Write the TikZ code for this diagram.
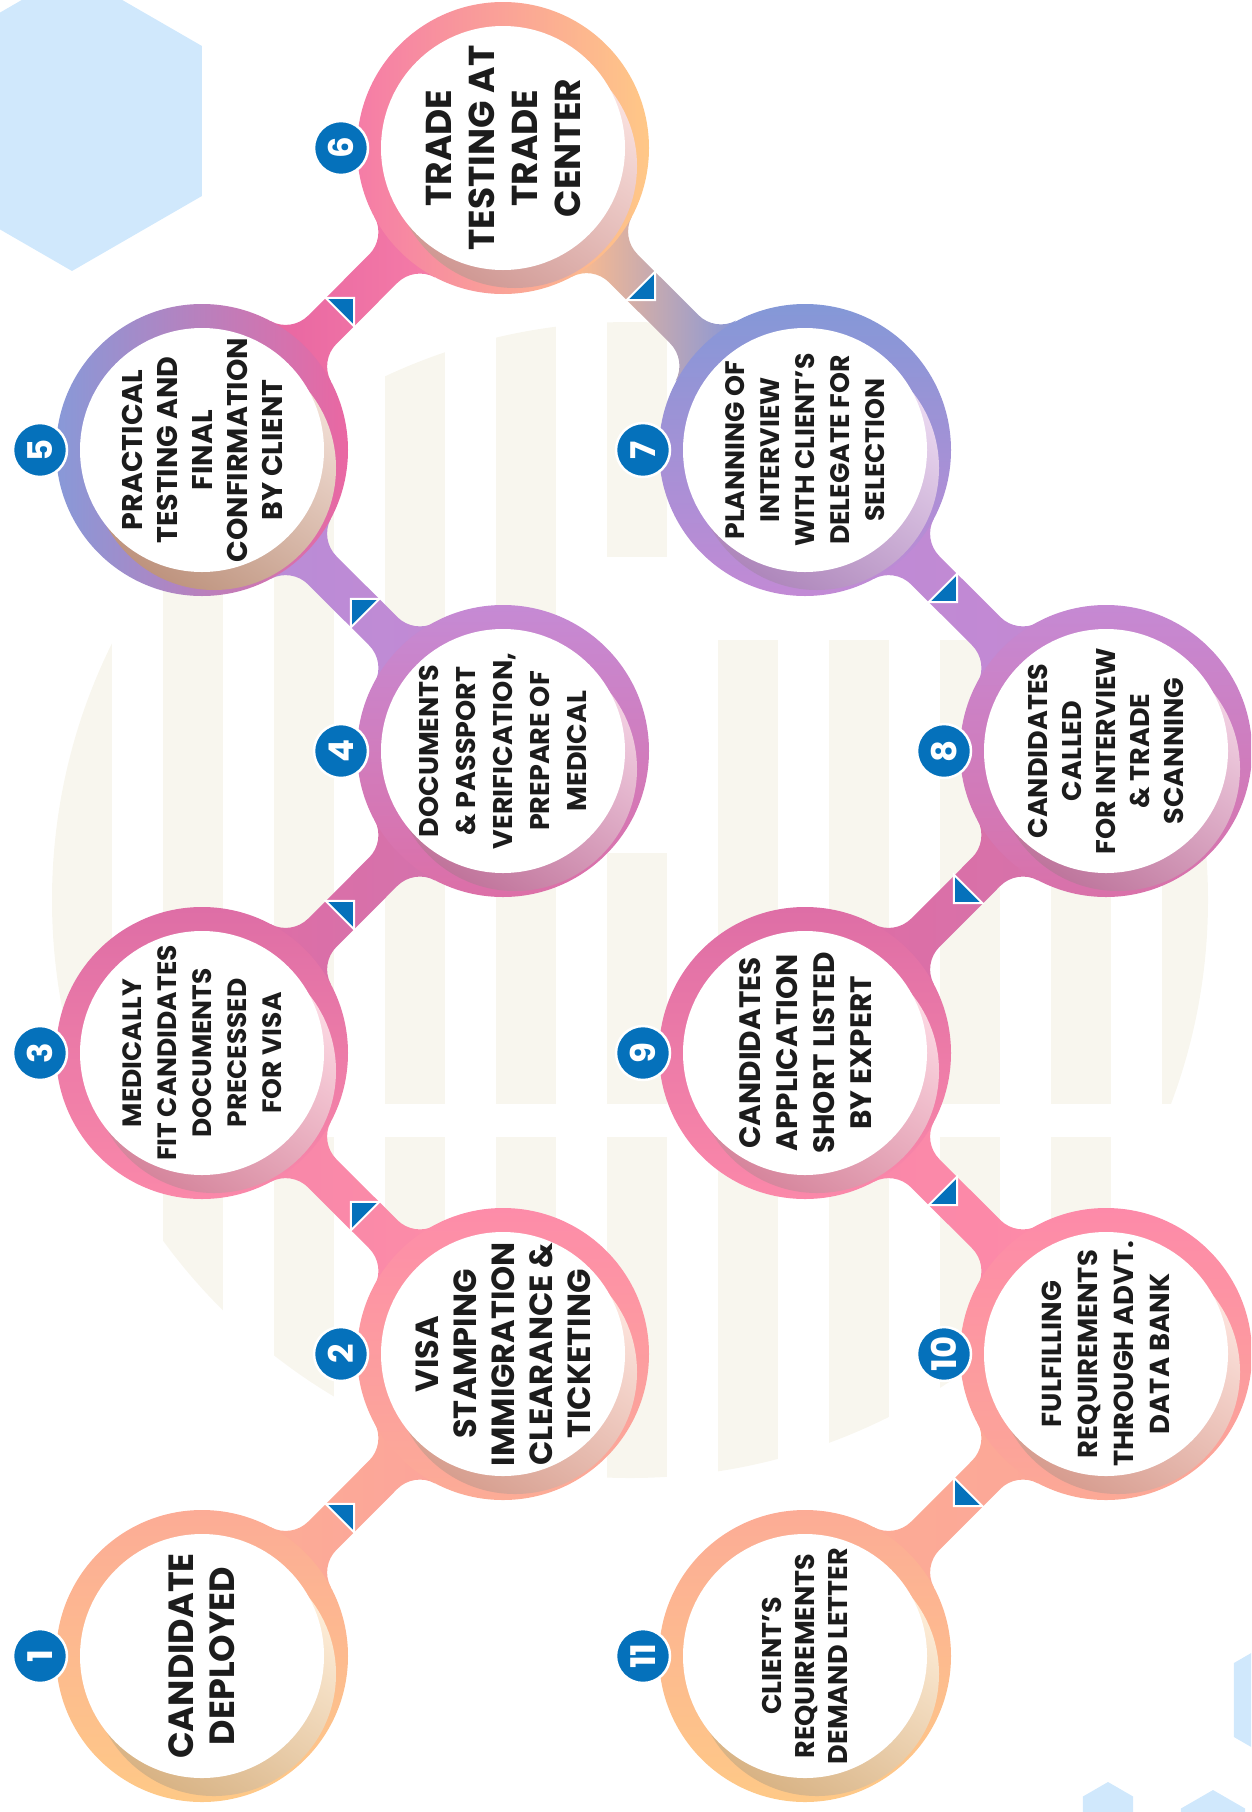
\documentclass[tikz,border=0pt]{standalone}
\usepackage{fontspec}
\setmainfont{Poppins}
\usetikzlibrary{calc}

% colours
\definecolor{badgeblue}{HTML}{0571BB}
\definecolor{inkblack}{HTML}{1C1C1C}
\definecolor{wmcream}{HTML}{F8F6EE}
\definecolor{hexblue}{HTML}{D0E8FC}
\definecolor{r1a}{HTML}{FCAC96}\definecolor{r1b}{HTML}{FEC987}
\definecolor{r2a}{HTML}{FD8CA9}\definecolor{r2b}{HTML}{FCAC96}
\definecolor{r3a}{HTML}{DE6EA6}\definecolor{r3b}{HTML}{FA88A9}
\definecolor{r4a}{HTML}{C58AD4}\definecolor{r4b}{HTML}{DC6FA7}
\definecolor{r5a}{HTML}{8899D8}\definecolor{r5m}{HTML}{C08AD4}\definecolor{r5b}{HTML}{EA67A2}
\definecolor{r6a}{HTML}{F57CA7}\definecolor{r6b}{HTML}{FFC887}
\definecolor{r7a}{HTML}{8498D7}\definecolor{r7b}{HTML}{C28AD5}
\definecolor{r8a}{HTML}{C589D3}\definecolor{r8b}{HTML}{D971A9}
\definecolor{r9a}{HTML}{DE6EA6}\definecolor{r9b}{HTML}{FB88A9}
\definecolor{r10a}{HTML}{FD8AA9}\definecolor{r10b}{HTML}{FCA996}
\definecolor{r11a}{HTML}{FCAC96}\definecolor{r11b}{HTML}{FEC987}
\definecolor{sh5}{HTML}{D99C7E}\definecolor{sh6}{HTML}{F2A39C}

\tikzset{
  badge/.style={circle, fill=badgeblue, draw=white, line width=2.5pt,
    minimum size=54pt, inner sep=0pt, text=white, rotate=90,
    font=\bfseries\fontsize{34}{34}\selectfont},
  steptext/.style={align=center, rotate=90, text=inkblack, inner sep=0pt},
  pointer/.style={fill=badgeblue, draw=white, line width=2pt},
  hexfill/.style={fill=hexblue},
  watermark/.style={fill=wmcream},
}

% gradient ring, drop shadow and white face
\newcommand\stepring[3]{%
  \shade[#2] (#1) circle[radius=146];
  \shade[top color=#3!30!white, bottom color=#3!70!gray, shading angle=-35]
    ($(#1)+(12,-18)$) circle[radius=122];
  \fill[white] (#1) circle[radius=122];}

% band between two rings, drawn from the left ring (colours in hex)
\newcommand\joinband[4]{%
  \definecolor{bandl}{HTML}{#3}\definecolor{bandr}{HTML}{#4}%
  \begin{scope}[shift={(#1)}, rotate=#2]
    \shade[left color=bandl, right color=bandr]
      (139.6,42.6) arc[start angle=197, end angle=270, radius=32]
      -- (256.2,20) arc[start angle=270, end angle=343, radius=32]
      -- (286.8,-42.6) arc[start angle=17, end angle=90, radius=32]
      -- (170.2,-20) arc[start angle=90, end angle=163, radius=32]
      -- cycle;
  \end{scope}}

% blue corner pointer on a band
\newcommand\pointer[2]{%
  \begin{scope}[shift={(#1)}, rotate=#2]
    \filldraw[pointer] (195,20) -- (215,0) -- (195,-20) -- cycle;
  \end{scope}}

% pointy-top hexagon
\newcommand\hexcell[3]{%
  \fill[hexfill] ($(#1,#2)+(90:#3)$) -- ($(#1,#2)+(150:#3)$)
    -- ($(#1,#2)+(210:#3)$) -- ($(#1,#2)+(270:#3)$)
    -- ($(#1,#2)+(330:#3)$) -- ($(#1,#2)+(30:#3)$) -- cycle;}

\begin{document}
\begin{tikzpicture}[x=1pt, y=1pt]
  \clip (0,0) rectangle (1251,-1812);

  % watermark
  \begin{scope}
    \clip (630,-900) circle[radius=578];
    \foreach \x in {52,163,274,385,496,1162}
      \fill[watermark] (\x,-300) rectangle ++(60,-804);
    \foreach \x in {718,829,940,1051}
      \fill[watermark] (\x,-640) rectangle ++(60,-464);
    \fill[watermark] (607,-300) rectangle ++(60,-257);
    \fill[watermark] (607,-853) rectangle ++(60,-251);
    \foreach \x in {52,163,...,1162}
      \fill[watermark] (\x,-1137) rectangle ++(60,-400);
  \end{scope}

  % hexagons
  \hexcell{72}{-121}{150}
  \hexcell{1298}{-1700}{74}
  \hexcell{1108}{-1811}{29}
  \hexcell{1213}{-1827}{37}

  % ring centres
  \coordinate (s1) at (202,-1656);
  \coordinate (s2) at (503,-1354);
  \coordinate (s3) at (202,-1053);
  \coordinate (s4) at (503,-751);
  \coordinate (s5) at (202,-450);
  \coordinate (s6) at (503,-148);
  \coordinate (s7) at (805,-450);
  \coordinate (s8) at (1106,-751);
  \coordinate (s9) at (805,-1053);
  \coordinate (s10) at (1106,-1354);
  \coordinate (s11) at (805,-1656);

  % bands
  \joinband{s1}{45}{FCAC96}{FCA49A}
  \joinband{s3}{-45}{F887A9}{FC8CA8}
  \joinband{s3}{45}{DD6EA6}{D472AC}
  \joinband{s5}{-45}{B98CD7}{C28AD4}
  \joinband{s5}{45}{E866A2}{F57CA7}
  \joinband{s6}{-45}{FFBC8C}{8A97D6}
  \joinband{s7}{-45}{BF8AD5}{C389D3}
  \joinband{s9}{45}{DD6EA6}{D672AA}
  \joinband{s9}{-45}{FA88A9}{FD8AA8}
  \joinband{s11}{45}{FCAB96}{FCA797}

  % rings
  \stepring{s1}{top color=r1a, bottom color=r1b}{r1b}
  \stepring{s2}{top color=r2a, bottom color=r2b}{r2b}
  \stepring{s3}{top color=r3a, bottom color=r3b}{r3b}
  \stepring{s4}{top color=r4a, bottom color=r4b}{r4b}
  \stepring{s5}{left color=r5a, middle color=r5m, right color=r5b}{sh5}
  \stepring{s6}{left color=r6a, right color=r6b}{sh6}
  \stepring{s7}{top color=r7a, bottom color=r7b}{r7b}
  \stepring{s8}{top color=r8a, bottom color=r8b}{r8b}
  \stepring{s9}{top color=r9a, bottom color=r9b}{r9b}
  \stepring{s10}{top color=r10a, bottom color=r10b}{r10b}
  \stepring{s11}{top color=r11a, bottom color=r11b}{r11b}

  % pointers, towards the next number
  \pointer{s1}{45}
  \pointer{s2}{135}
  \pointer{s3}{45}
  \pointer{s4}{135}
  \pointer{s5}{45}
  \pointer{s6}{-45}
  \pointer{s7}{-45}
  \pointer{s8}{-135}
  \pointer{s9}{-45}
  \pointer{s10}{-135}

  % texts
  \node[steptext, font=\bfseries\fontsize{35}{41}\selectfont] (t1) at (s1) {CANDIDATE\\DEPLOYED};
  \node[steptext, font=\bfseries\fontsize{32}{38}\selectfont] (t2) at (s2) {VISA\\STAMPING\\IMMIGRATION\\CLEARANCE \&\\TICKETING};
  \node[steptext, font=\bfseries\fontsize{26.5}{35}\selectfont] (t3) at (s3) {MEDICALLY\\FIT CANDIDATES\\DOCUMENTS\\PRECESSED\\FOR VISA};
  \node[steptext, font=\bfseries\fontsize{27}{37}\selectfont] (t4) at (s4) {DOCUMENTS\\\& PASSPORT\\VERIFICATION,\\PREPARE OF\\MEDICAL};
  \node[steptext, font=\bfseries\fontsize{28.5}{35}\selectfont] (t5) at (s5) {PRACTICAL\\TESTING AND\\FINAL\\CONFIRMATION\\BY CLIENT};
  \node[steptext, font=\bfseries\fontsize{36}{43}\selectfont] (t6) at (s6) {TRADE\\TESTING AT\\TRADE\\CENTER};
  \node[steptext, font=\bfseries\fontsize{26.7}{35}\selectfont] (t7) at (s7) {PLANNING OF\\INTERVIEW\\WITH CLIENT’S\\DELEGATE FOR\\SELECTION};
  \node[steptext, font=\bfseries\fontsize{27}{34}\selectfont] (t8) at (s8) {CANDIDATES\\CALLED\\FOR INTERVIEW\\\& TRADE\\SCANNING};
  \node[steptext, font=\bfseries\fontsize{29.5}{37}\selectfont] (t9) at (s9) {CANDIDATES\\APPLICATION\\SHORT LISTED\\BY EXPERT};
  \node[steptext, font=\bfseries\fontsize{27.4}{36}\selectfont] (t10) at (s10) {FULFILLING\\REQUIREMENTS\\THROUGH ADVT.\\DATA BANK};
  \node[steptext, font=\bfseries\fontsize{27}{33}\selectfont] (t11) at (s11) {CLIENT’S\\REQUIREMENTS\\DEMAND LETTER};

  % number badges
  \foreach \n in {1,...,11}
    \node[badge] (b\n) at ($(s\n)+(-162,0)$) {\n};
\end{tikzpicture}
\end{document}
